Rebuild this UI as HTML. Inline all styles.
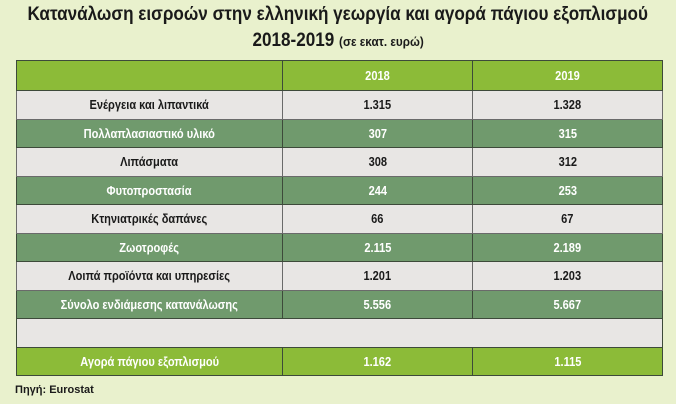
<!DOCTYPE html>
<html><head><meta charset="utf-8"><style>
body{margin:0;width:676px;height:404px;background:#e9f1cd;font-family:"Liberation Sans",sans-serif;position:relative;overflow:hidden}
.t{position:absolute;left:-200px;width:1076px;text-align:center;font-weight:bold;color:#1a1a1a;white-space:nowrap}
.t span{display:inline-block;transform:scaleX(0.9);transform-origin:center}
table{position:absolute;left:16px;top:60px;width:646px;border-collapse:collapse;table-layout:fixed}
td{height:27.5px;border:1.5px solid #3d4a3a;text-align:center;font-weight:bold;font-size:13px;padding:0}
td span{display:inline-block;transform:scaleX(0.85)}
tr.h td{background:#8cbb38;color:#fff;height:29px}
tr.l td{background:#e8e6e4;color:#1a1a1a;border-color:#6a6a6a}
tr.d td{background:#709a6d;color:#fff}
tr.b td{background:#e8e6e4}
tr.g td{background:#8cbb38;color:#fff}
.src{position:absolute;left:15px;top:384px;font-size:11px;font-weight:bold;color:#1a1a1a}
</style></head><body>
<div class="t" style="top:4px;font-size:19px"><span>Κατανάλωση εισροών στην ελληνική γεωργία και αγορά πάγιου εξοπλισμού</span></div>
<div class="t" style="top:30px;font-size:19px"><span>2018-2019 <small style="font-size:13px">(σε εκατ. ευρώ)</small></span></div>
<table>
<colgroup><col style="width:266px"><col style="width:190px"><col style="width:190px"></colgroup>
<tr class="h"><td></td><td><span>2018</span></td><td><span>2019</span></td></tr>
<tr class="l"><td><span>Ενέργεια και λιπαντικά</span></td><td><span>1.315</span></td><td><span>1.328</span></td></tr>
<tr class="d"><td><span>Πολλαπλασιαστικό υλικό</span></td><td><span>307</span></td><td><span>315</span></td></tr>
<tr class="l"><td><span>Λιπάσματα</span></td><td><span>308</span></td><td><span>312</span></td></tr>
<tr class="d"><td><span>Φυτοπροστασία</span></td><td><span>244</span></td><td><span>253</span></td></tr>
<tr class="l"><td><span>Κτηνιατρικές δαπάνες</span></td><td><span>66</span></td><td><span>67</span></td></tr>
<tr class="d"><td><span>Ζωοτροφές</span></td><td><span>2.115</span></td><td><span>2.189</span></td></tr>
<tr class="l"><td><span>Λοιπά προϊόντα και υπηρεσίες</span></td><td><span>1.201</span></td><td><span>1.203</span></td></tr>
<tr class="d"><td><span>Σύνολο ενδιάμεσης κατανάλωσης</span></td><td><span>5.556</span></td><td><span>5.667</span></td></tr>
<tr class="b"><td colspan="3"></td></tr>
<tr class="g"><td><span>Αγορά πάγιου εξοπλισμού</span></td><td><span>1.162</span></td><td><span>1.115</span></td></tr>
</table>
<div class="src">Πηγή: Eurostat</div>
</body></html>
